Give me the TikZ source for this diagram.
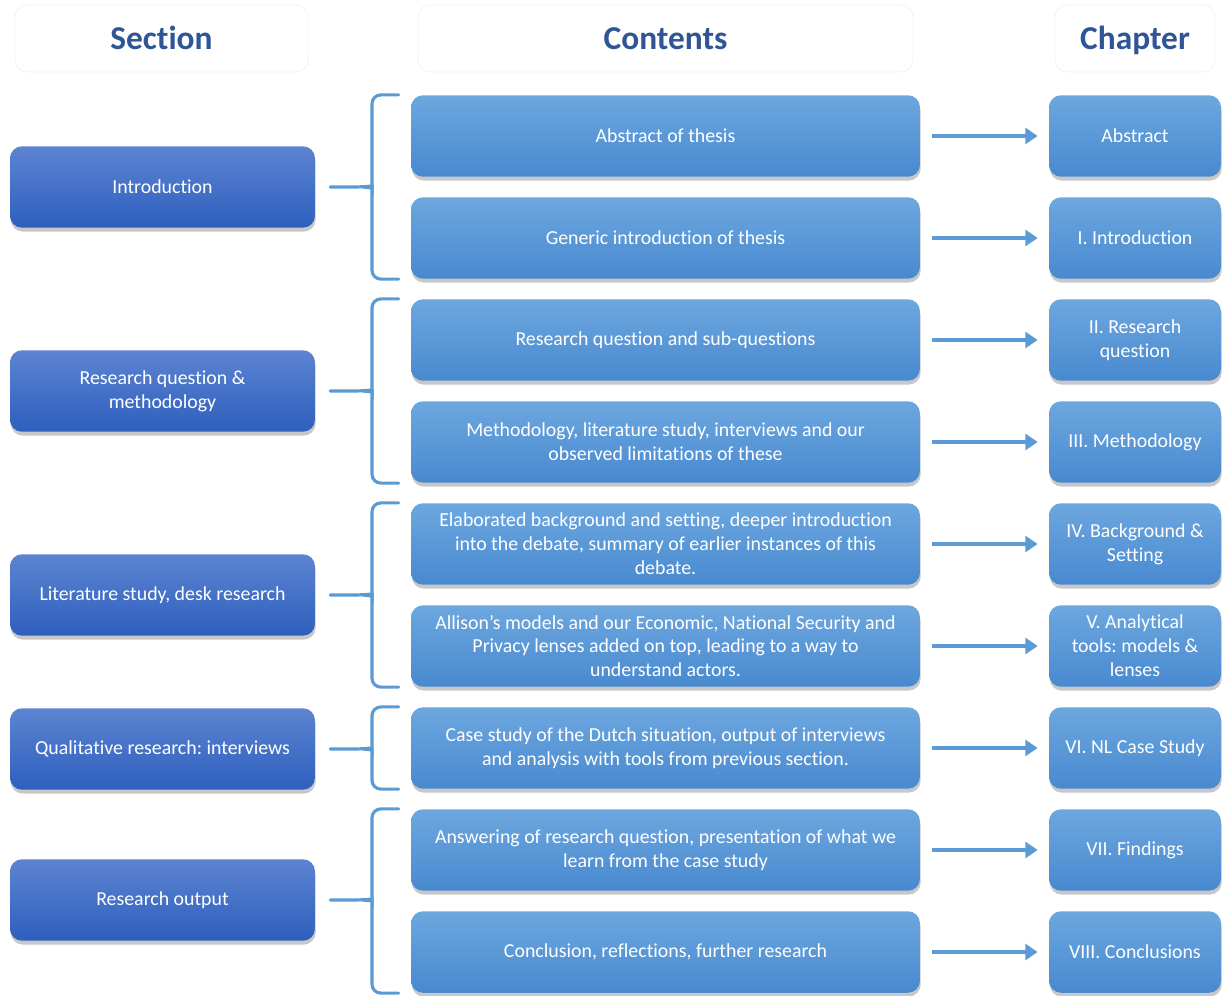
\documentclass[tikz,border=0pt]{standalone}
\usepackage{fontspec}
\setmainfont[Ligatures=NoCommon]{Carlito}
\usepackage{tikz}
\usetikzlibrary{calc,arrows.meta,shadows,positioning}
\definecolor{headtext}{HTML}{2F5597}
\definecolor{sectop}{HTML}{5C84D1}
\definecolor{secbot}{HTML}{2E5FBE}
\definecolor{conttop}{HTML}{6DA7DF}
\definecolor{contbot}{HTML}{4889CF}
\definecolor{link}{HTML}{5B9BD5}
\definecolor{faint}{HTML}{F1F1F1}
\frenchspacing
\tikzset{
  box/.style={rounded corners=0.24cm, text=white, align=center, minimum height=1.63cm,
    font=\fontsize{11.3}{13.6}\selectfont,
    drop shadow={shadow xshift=0.4pt, shadow yshift=-2.2pt, opacity=0.3, fill=black!70}},
  sec/.style={box, top color=sectop, bottom color=secbot, minimum width=6.1cm},
  cont/.style={box, top color=conttop, bottom color=contbot, minimum width=10.18cm},
  chap/.style={box, top color=conttop, bottom color=contbot, minimum width=3.44cm},
  head/.style={draw=faint, rounded corners=0.24cm, minimum height=1.34cm, text=headtext,
    text height=0.5cm, text depth=0.04cm,
    font=\fontsize{19}{22}\selectfont\bfseries},
  arr/.style={draw=link, line width=2.3pt, -{Triangle[length=7pt, width=9pt]},
    shorten <=0.24cm, shorten >=0.22cm},
  brc/.style={draw=link, line width=1.8pt, line cap=round},
}
\begin{document}
\begin{tikzpicture}[x=0.02cm, y=-0.02cm]
\useasboundingbox[fill=white] (0,0) rectangle (1223,996);

% column headings
\node[head, minimum width=5.86cm] (hsec) at (161.5,38.5) {Section};
\node[head, minimum width=9.9cm] (hcont) at (665.5,38.5) {Contents};
\node[head, minimum width=3.2cm] (hchap) at (1135,38.5) {Chapter};

% sections
\node[sec] (s1) at (162.5,187) {Introduction};
\node[sec] (s2) at (162.5,391) {Research question \&\\methodology};
\node[sec] (s3) at (162.5,595) {Literature study, desk research};
\node[sec] (s4) at (162.5,749) {Qualitative research: interviews};
\node[sec] (s5) at (162.5,900) {Research output};

% contents
\node[cont] (c1) at (665.5,136) {Abstract of thesis};
\node[cont] (c2) at (665.5,238) {Generic introduction of thesis};
\node[cont] (c3) at (665.5,340) {Research question and sub-questions};
\node[cont] (c4) at (665.5,442) {Methodology, literature study, interviews and our\\observed limitations of these};
\node[cont] (c5) at (665.5,544) {Elaborated background and setting, deeper introduction\\into the debate, summary of earlier instances of this\\debate.};
\node[cont] (c6) at (665.5,646) {Allison’s models and our Economic, National Security and\\Privacy lenses added on top, leading to a way to\\understand actors.};
\node[cont] (c7) at (665.5,748) {Case study of the Dutch situation, output of interviews\\and analysis with tools from previous section.};
\node[cont] (c8) at (665.5,850) {Answering of research question, presentation of what we\\learn from the case study};
\node[cont] (c9) at (665.5,952) {Conclusion, reflections, further research};

% chapters
\node[chap] (h1) at (1135,136) {Abstract};
\node[chap] (h2) at (1135,238) {I. Introduction};
\node[chap] (h3) at (1135,340) {II. Research\\question};
\node[chap] (h4) at (1135,442) {III. Methodology};
\node[chap] (h5) at (1135,544) {IV. Background \&\\Setting};
\node[chap] (h6) at (1135,646) {V. Analytical\\tools: models \&\\lenses};
\node[chap] (h7) at (1135,748) {VI. NL Case Study};
\node[chap] (h8) at (1135,850) {VII. Findings};
\node[chap] (h9) at (1135,952) {VIII. Conclusions};

\foreach \i in {1,...,9}
  \draw[arr] (c\i.east) -- (h\i.west);

% braces
\coordinate (bx) at (372,0);
\foreach \t/\b/\s in {c1/c2/s1, c3/c4/s2, c5/c6/s3, c7/c7/s4, c8/c9/s5} {
  \draw[brc, rounded corners=5pt] ($(\t.north west)+(-12,0)$) -- (\t.north -| bx)
    -- ($(\s.east -| bx)+(0,-9)$) .. controls ($(\s.east -| bx)+(0,-1)$) .. ($(\s.east -| bx)+(-9,0)$)
    -- ($(\s.east)+(15,0)$);
  \draw[brc, rounded corners=5pt] ($(\s.east -| bx)+(-9,0)$) .. controls ($(\s.east -| bx)+(0,1)$) .. ($(\s.east -| bx)+(0,9)$)
    -- (\b.south -| bx) -- ($(\b.south west)+(-12,0)$);
}
\end{tikzpicture}
\end{document}
